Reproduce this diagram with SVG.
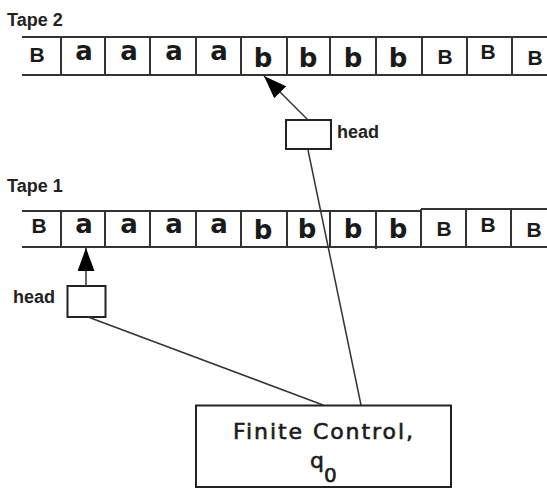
<svg xmlns="http://www.w3.org/2000/svg" width="547" height="496" viewBox="0 0 547 496">
<style>
.tl{stroke:#333;stroke-width:2;fill:none}
.bx{stroke:#222;stroke-width:2;fill:#fff}
.cn{stroke:#333;stroke-width:1.5;fill:none}
.lab{font-family:"Liberation Sans",Arial,sans-serif;font-weight:bold;font-size:18px;fill:#222}
.sym{font-family:"DejaVu Sans",sans-serif;font-weight:bold;font-size:26px;fill:#1a1a1a;text-anchor:middle}
.bl{font-family:"Liberation Sans",Arial,sans-serif;font-weight:bold;font-size:21px;fill:#1a1a1a;text-anchor:middle}
.fc{font-family:"DejaVu Sans",sans-serif;font-size:22px;fill:#1a1a1a;stroke:#1a1a1a;stroke-width:0.6}
</style>
<defs>
<marker id="ah" markerUnits="userSpaceOnUse" viewBox="0 0 23 17" refX="23" refY="8.5" markerWidth="23" markerHeight="17" orient="auto">
<path d="M0,0 L23,8.5 L0,17 z" fill="#000"/>
</marker>
</defs>
<rect width="547" height="496" fill="#fff"/>

<g id="tape2">
<text class="lab" x="7" y="26">Tape 2</text>
<path class="tl" d="M22,37 H547 M22,75 H547 M61,37 V75 M105,37 V75 M150,37 V75 M196,37 V75 M241,37 V75 M287,37 V75 M330,37 V75 M376,37 V75 M422,37 V75 M467,37 V75 M512,37 V75"/>
<text class="bl" x="37" y="62">B</text>
<text class="sym" x="84" y="60">a</text>
<text class="sym" x="129" y="60">a</text>
<text class="sym" x="174" y="60">a</text>
<text class="sym" x="219" y="60">a</text>
<text class="sym" x="263" y="67">b</text>
<text class="sym" x="308" y="67">b</text>
<text class="sym" x="353" y="67">b</text>
<text class="sym" x="398" y="67">b</text>
<text class="bl" x="445" y="64">B</text>
<text class="bl" x="488" y="59">B</text>
<text class="bl" x="535" y="65">B</text>
</g>

<g id="tape1">
<text class="lab" x="7" y="192">Tape 1</text>
<path class="tl" d="M22,211 H421 M421,209 H547 M22,247 H547 M61,211 V247 M105,211 V247 M150,211 V247 M196,211 V247 M241,211 V247 M287,211 V247 M330,211 V247 M376,211 V249 M421,209 V247 M466,209 V247 M511,209 V247"/>
<text class="bl" x="39" y="233">B</text>
<text class="sym" x="84" y="233">a</text>
<text class="sym" x="129" y="233">a</text>
<text class="sym" x="174" y="233">a</text>
<text class="sym" x="219" y="233">a</text>
<text class="sym" x="263" y="239">b</text>
<text class="sym" x="307" y="238">b</text>
<text class="sym" x="353" y="238">b</text>
<text class="sym" x="398" y="238">b</text>
<text class="bl" x="444" y="236">B</text>
<text class="bl" x="488" y="232">B</text>
<text class="bl" x="534" y="237">B</text>
</g>

<g id="head2">
<rect class="bx" x="286" y="120" width="45" height="29"/>
<text class="lab" x="337" y="138">head</text>
</g>

<g id="head1">
<rect class="bx" x="67.5" y="286" width="38" height="31"/>
<text class="lab" x="13" y="303">head</text>
</g>

<g id="connectors">
<line class="cn" x1="308" y1="120" x2="264" y2="76" marker-end="url(#ah)"/>
<line class="cn" x1="86" y1="286" x2="86" y2="248" marker-end="url(#ah)"/>
<line class="cn" x1="308" y1="150" x2="361" y2="405"/>
<line class="cn" x1="88" y1="317" x2="323" y2="405"/>
</g>

<g id="control">
<rect class="bx" x="196" y="405.5" width="255" height="81.5"/>
<text class="fc" x="233" y="439" textLength="180" lengthAdjust="spacing">Finite Control,</text>
<text class="fc" x="310" y="468">q</text>
<text class="fc" x="324" y="482" style="font-size:20px">0</text>
</g>
</svg>
